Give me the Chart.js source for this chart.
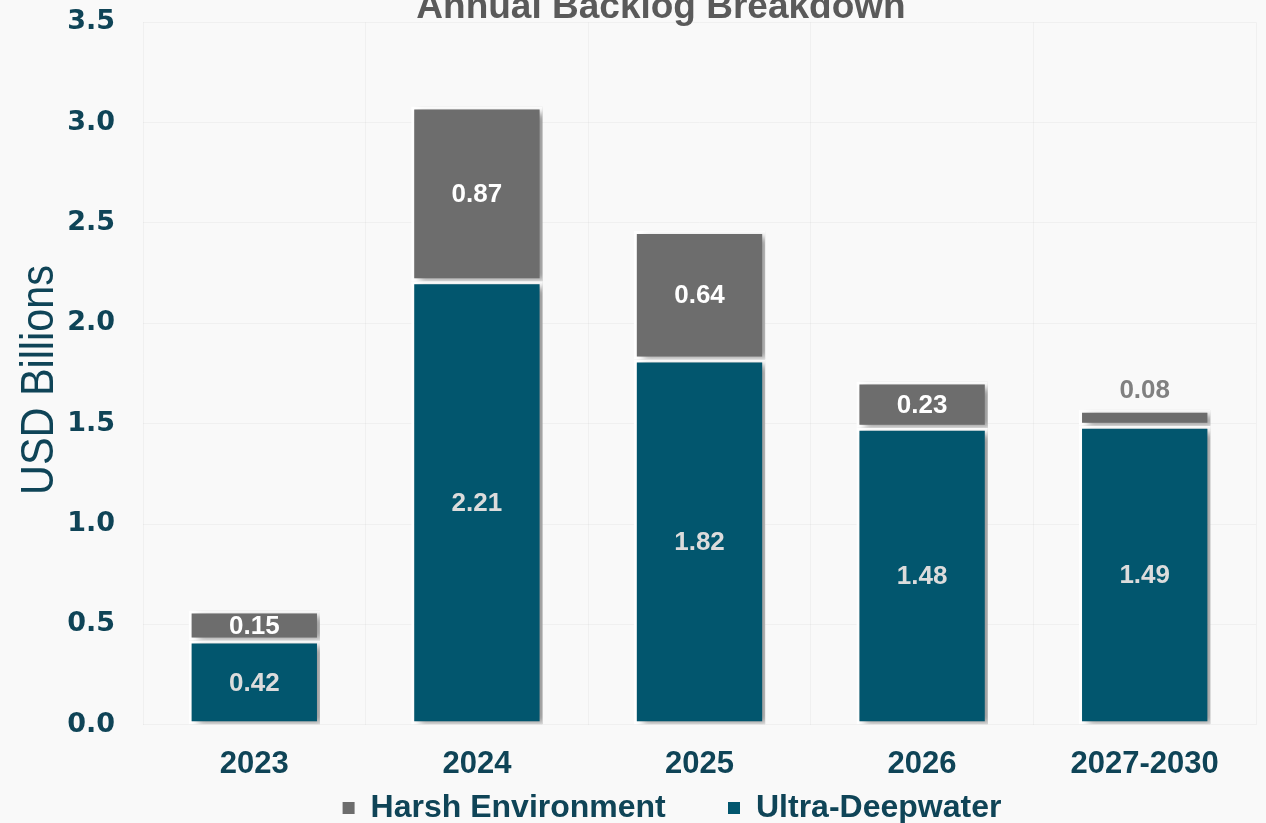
<!DOCTYPE html>
<html>
<head>
<meta charset="utf-8">
<script src="https://cdn.jsdelivr.net/npm/chart.js@4.4.1/dist/chart.umd.min.js"></script>
<style>
  html, body { margin: 0; padding: 0; background: #f9f9f9; overflow: hidden; }
  #wrap { width: 1266px; height: 845px; position: relative; top: -22px; }
</style>
</head>
<body>
<div id="wrap"><canvas id="backlog"></canvas></div>
<script>
// chart data
const years = ['2023', '2024', '2025', '2026', '2027-2030'];
const ultraDeepwater = [0.42, 2.21, 1.82, 1.48, 1.49];
const harshEnvironment = [0.15, 0.87, 0.64, 0.23, 0.08];

const teal = '#02566e';
const gray = '#6d6d6d';
const textDark = '#0f4457';
const shiftY = 22; // canvas sits 22px above the page top

// cut-off title at the very top + narrow y-axis title
const titlePlugin = {
  id: 'topTitle',
  afterDraw(chart) {
    const ctx = chart.ctx;
    ctx.save();
    ctx.font = 'bold 37px "Liberation Sans", Arial, sans-serif';
    ctx.fillStyle = '#5a5a5a';
    ctx.textAlign = 'center';
    ctx.textBaseline = 'alphabetic';
    ctx.fillText('Annual Backlog Breakdown', 661, 18 + shiftY);
    ctx.restore();

    ctx.save();
    ctx.translate(38, 380 + shiftY);
    ctx.rotate(-Math.PI / 2);
    ctx.scale(0.88, 1);
    ctx.font = '47px "Liberation Sans", Arial, sans-serif';
    ctx.fillStyle = textDark;
    ctx.textAlign = 'center';
    ctx.textBaseline = 'middle';
    ctx.fillText('USD Billions', 0, 2);
    ctx.restore();
  }
};

// move the legend to where the original has it
const legendShift = {
  id: 'legendShift',
  afterLayout(chart) {
    const lg = chart.legend;
    if (!lg) return;
    const h = lg.bottom - lg.top;
    lg.left += 44;
    lg.right += 44;
    lg.top = 814;
    lg.bottom = 814 + h;
  }
};

// soft shadow behind the bars
const shadowPlugin = {
  id: 'barShadow',
  beforeDatasetsDraw(chart) {
    const ctx = chart.ctx;
    ctx.save();
    ctx.shadowColor = 'rgba(0,0,0,0.4)';
    ctx.shadowOffsetX = 6;
    ctx.shadowOffsetY = 3;
    ctx.shadowBlur = 7;
  },
  afterDatasetsDraw(chart) {
    chart.ctx.restore();
  }
};

// value labels in / above the segments
const labelPlugin = {
  id: 'valueLabels',
  afterDatasetsDraw(chart) {
    const ctx = chart.ctx;
    ctx.save();
    ctx.font = 'bold 26px "Liberation Sans", Arial, sans-serif';
    ctx.textAlign = 'center';
    ctx.textBaseline = 'middle';
    chart.data.datasets.forEach((ds, i) => {
      const meta = chart.getDatasetMeta(i);
      meta.data.forEach((bar, j) => {
        const v = ds.data[j];
        let y = (bar.y + bar.base) / 2;
        let color = i === 0 ? '#dcdcdc' : '#ffffff';
        if (i === 1 && v < 0.1) {
          y = bar.y - 20;
          color = '#808080';
        }
        ctx.fillStyle = color;
        ctx.fillText(v.toFixed(2), bar.x, y + 1);
      });
    });
    ctx.restore();
  }
};

new Chart(document.getElementById('backlog'), {
  type: 'bar',
  data: {
    labels: years,
    datasets: [
      {
        label: 'Ultra-Deepwater',
        data: ultraDeepwater,
        backgroundColor: teal,
        borderColor: '#ffffff',
        borderWidth: 3,
        borderSkipped: false,
        barPercentage: 0.59,
        categoryPercentage: 1.0
      },
      {
        label: 'Harsh Environment',
        data: harshEnvironment,
        backgroundColor: gray,
        borderColor: '#ffffff',
        borderWidth: 3,
        borderSkipped: false,
        barPercentage: 0.59,
        categoryPercentage: 1.0
      }
    ]
  },
  options: {
    responsive: true,
    maintainAspectRatio: false,
    animation: false,
    layout: { padding: { top: 0, right: 10, left: 0, bottom: -23 } },
    plugins: {
      title: { display: false },
      tooltip: { enabled: false },
      legend: {
        position: 'bottom',
        reverse: true,
        labels: {
          usePointStyle: true,
          pointStyle: 'rect',
          boxWidth: 12,
          boxHeight: 12,
          padding: 0,
          color: textDark,
          font: { family: '"Liberation Sans", Arial, sans-serif', size: 32, weight: 'bold' },
          generateLabels(chart) {
            const items = Chart.defaults.plugins.legend.labels.generateLabels(chart);
            items.forEach(it => {
              it.lineWidth = 0;
              if (it.text === 'Harsh Environment') it.text += '       ';
            });
            return items;
          }
        }
      }
    },
    scales: {
      x: {
        stacked: true,
        grid: { color: 'rgba(0,0,0,0.035)', drawTicks: false },
        border: { display: false },
        ticks: {
          color: textDark,
          padding: 21,
          font: { family: '"Liberation Sans", Arial, sans-serif', size: 31, weight: 'bold' }
        }
      },
      y: {
        stacked: true,
        min: 0,
        max: 3.5,
        grid: { color: 'rgba(0,0,0,0.035)', drawTicks: false },
        border: { display: false },
        afterFit(scale) { scale.width = 143; },
        ticks: {
          stepSize: 0.5,
          padding: 28,
          color: textDark,
          callback: v => Number(v).toFixed(1),
          font: { family: '"DejaVu Sans", Verdana, sans-serif', size: 27, weight: 'bold' }
        }
      }
    }
  },
  plugins: [legendShift, shadowPlugin, labelPlugin, titlePlugin]
});
</script>
</body>
</html>
